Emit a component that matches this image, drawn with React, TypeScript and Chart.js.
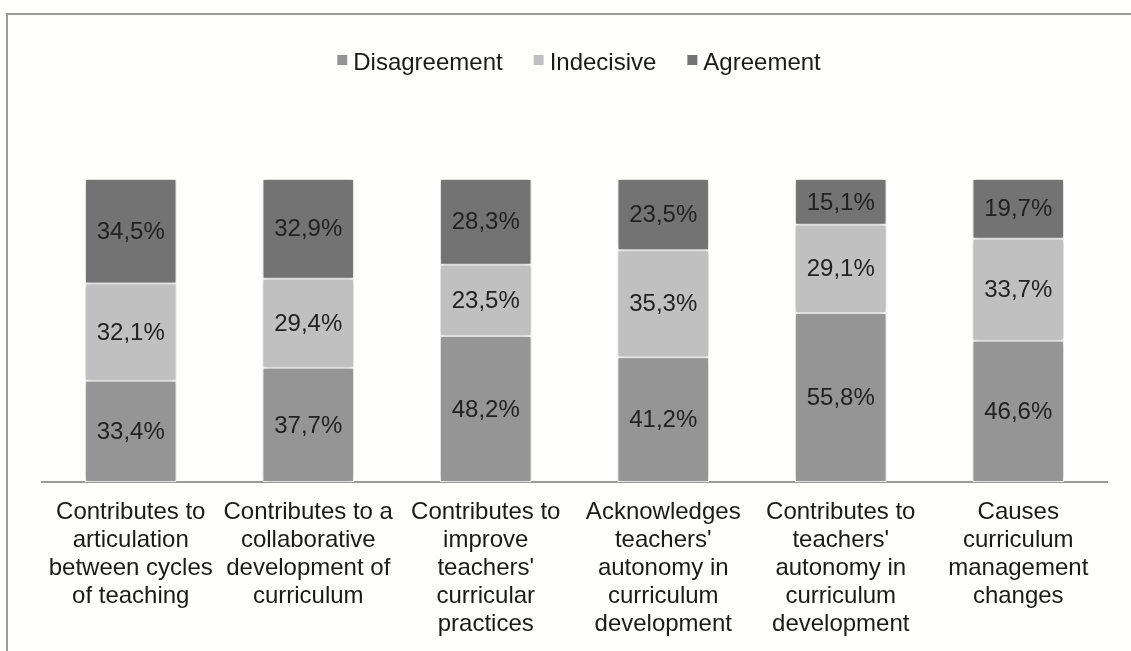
import React, { useEffect, useRef } from "react";
import { Chart, registerables } from "chart.js";

Chart.register(...registerables);

const categories: string[][] = [
  ["Contributes to", "articulation", "between cycles", "of teaching"],
  ["Contributes to a", "collaborative", "development of", "curriculum"],
  ["Contributes to", "improve", "teachers'", "curricular", "practices"],
  ["Acknowledges", "teachers'", "autonomy in", "curriculum", "development"],
  ["Contributes to", "teachers'", "autonomy in", "curriculum", "development"],
  ["Causes", "curriculum", "management", "changes"],
];

const disagreement = [33.4, 37.7, 48.2, 41.2, 55.8, 46.6];
const indecisive = [32.1, 29.4, 23.5, 35.3, 29.1, 33.7];
const agreement = [34.5, 32.9, 28.3, 23.5, 15.1, 19.7];

const seriesNames = ["Disagreement", "Indecisive", "Agreement"];
const seriesColors = ["#959595", "#c0c0c0", "#737373"];

const FONT = '"Liberation Sans", Arial, sans-serif';
const FS = 24;

const shadowPlugin = {
  id: "barShadow",
  beforeDatasetsDraw(chart: any) {
    const ctx = chart.ctx;
    ctx.save();
    ctx.shadowColor = "rgba(0,0,0,0.3)";
    ctx.shadowBlur = 6;
    ctx.shadowOffsetX = 0;
    ctx.shadowOffsetY = 0;
  },
  afterDatasetsDraw(chart: any) {
    chart.ctx.restore();
  },
};

const labelPlugin = {
  id: "segLabels",
  afterDatasetsDraw(chart: any) {
    const ctx = chart.ctx;
    ctx.save();
    ctx.font = `${FS}px ${FONT}`;
    ctx.fillStyle = "#222222";
    ctx.textAlign = "center";
    ctx.textBaseline = "middle";
    chart.data.datasets.forEach((ds: any, di: number) => {
      const meta = chart.getDatasetMeta(di);
      meta.data.forEach((el: any, i: number) => {
        const p = el.getProps(["x", "y", "base"], true);
        const v = ds.data[i] as number;
        const txt = v.toFixed(1).replace(".", ",") + "%";
        ctx.fillText(txt, p.x, (p.y + p.base) / 2 + 1);
      });
    });
    ctx.restore();
  },
};

const legendPlugin = {
  id: "customLegend",
  afterDraw(chart: any) {
    const ctx = chart.ctx;
    ctx.save();
    ctx.font = `${FS}px ${FONT}`;
    const box = 10;
    const gapBox = 6;
    const gapItem = 31;
    const widths = chart.data.datasets.map((d: any) => ctx.measureText(d.label).width);
    const total =
      widths.reduce((a: number, b: number) => a + b, 0) +
      chart.data.datasets.length * (box + gapBox) +
      gapItem * (chart.data.datasets.length - 1);
    let x = 579 - total / 2;
    const yMid = 63;
    chart.data.datasets.forEach((d: any, i: number) => {
      ctx.fillStyle = d.backgroundColor;
      ctx.fillRect(x, yMid - 8, box, box);
      x += box + gapBox;
      ctx.fillStyle = "#1a1a1a";
      ctx.textAlign = "left";
      ctx.textBaseline = "middle";
      ctx.fillText(d.label, x, yMid);
      x += widths[i] + gapItem;
    });
    ctx.restore();
  },
};

export default function App() {
  const ref = useRef<HTMLCanvasElement>(null);

  useEffect(() => {
    if (!ref.current) return;
    const values = [disagreement, indecisive, agreement];
    const chart = new Chart(ref.current, {
      type: "bar",
      data: {
        labels: categories,
        datasets: seriesNames.map((name, i) => ({
          label: name,
          data: values[i],
          backgroundColor: seriesColors[i],
          borderColor: "#ffffff",
          borderWidth: 1,
          borderSkipped: false,
          categoryPercentage: 1,
          barPercentage: 0.515,
        })),
      },
      options: {
        responsive: false,
        animation: false,
        layout: { padding: { left: 42, right: 24, top: 179, bottom: 0 } },
        plugins: {
          legend: { display: false },
          tooltip: { enabled: false },
        },
        scales: {
          x: {
            stacked: true,
            grid: { display: false, drawTicks: false },
            border: { display: true, color: "#9a9a9a", width: 2 },
            ticks: {
              color: "#1a1a1a",
              font: { family: FONT, size: FS, lineHeight: 1.17 },
              padding: 16,
              maxRotation: 0,
              autoSkip: false,
            },
            afterFit(scale: any) {
              scale.height = 169;
            },
          },
          y: {
            stacked: true,
            display: false,
            min: 0,
            max: 100,
          },
        },
      },
      plugins: [shadowPlugin, labelPlugin, legendPlugin],
    });
    return () => chart.destroy();
  }, []);

  return (
    <div
      style={{
        position: "absolute",
        left: 0,
        top: 0,
        width: 1131,
        height: 651,
        overflow: "hidden",
        background: "#fefefd",
      }}
    >
      <div
        style={{
          position: "absolute",
          left: 6,
          top: 13,
          width: 1200,
          height: 700,
          borderTop: "2px solid #9a9a9a",
          borderLeft: "2px solid #9a9a9a",
        }}
      />
      <canvas
        ref={ref}
        width={1131}
        height={651}
        style={{ position: "absolute", left: 0, top: 0, width: 1131, height: 651 }}
      />
    </div>
  );
}
